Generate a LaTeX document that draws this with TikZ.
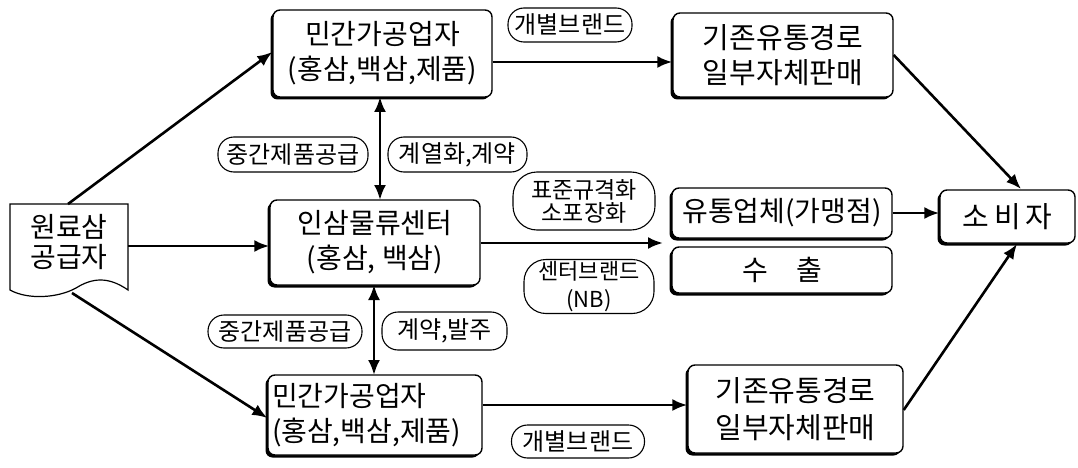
\documentclass[tikz,border=0pt]{standalone}
\usepackage{fontspec}
\setmainfont{Noto Sans CJK KR}
\usetikzlibrary{arrows.meta,shadows}
\tikzset{
  box/.style={draw=black, line width=1.4pt, fill=white, rounded corners=7pt,
    drop shadow={shadow xshift=-2.5pt, shadow yshift=-2.5pt, opacity=1, fill=black},
    inner sep=1pt, align=center, font=\fontsize{28}{35}\selectfont},
  tag/.style={draw=black, line width=1.1pt, rounded corners=16pt, fill=white,
    inner sep=0pt, align=center, font=\fontsize{24}{26}\selectfont},
  conn/.style={line width=2.6pt, -{Latex[length=15pt,width=12pt]}},
  bidir/.style={line width=2.6pt, {Latex[length=15pt,width=12pt]}-{Latex[length=15pt,width=12pt]}}
}
\begin{document}
\begin{tikzpicture}[x=1pt,y=-1pt]
\useasboundingbox (0,0) rectangle (1078,468);
% document shape
\draw[line width=1.2pt, fill=white] (10,204) -- (128,204) -- (128,290)
  .. controls (108,276) and (92,278) .. (76,288)
  .. controls (58,298) and (28,300) .. (10,290) -- cycle;
\node[font=\fontsize{28}{30}\selectfont, align=center, inner sep=0pt] (src) at (69,242) {원료삼\\공급자};
\coordinate (srcT) at (68,204);
\coordinate (srcR) at (128,246);
\coordinate (srcB) at (72,293);

% boxes
\node[box, minimum width=219pt, minimum height=87pt] (tl) at (382.5,53.5) {민간가공업자\\(홍삼,백삼,제품)};
\node[box, minimum width=220pt, minimum height=84pt, font=\fontsize{29}{35}\selectfont] (tr) at (783,55) {기존유통경로\\일부자체판매};
\node[box, minimum width=210pt, minimum height=85pt] (ctr) at (375,242.5) {인삼물류센터\\(홍삼,\ 백삼)};
\node[box, minimum width=214pt, minimum height=80pt, align=left, text width=206pt] (bl) at (375,415) {민간가공업자\\(홍삼,백삼,제품)};
\node[box, minimum width=215pt, minimum height=88pt, font=\fontsize{29}{37}\selectfont] (br) at (795.5,409) {기존유통경로\\일부자체판매};
\node[box, minimum width=220pt, minimum height=50pt] (dist) at (782,213) {유통업체(가맹점)};
\node[box, minimum width=220pt, minimum height=46pt] (exp) at (782,270) {수\hspace{1em}출};
\node[box, minimum width=135pt, minimum height=53pt, font=\fontsize{29}{30}\selectfont] (cons) at (1007.5,216.5) {소\,비\,자};

% tags
\node[tag, minimum width=124pt, minimum height=34pt] (t1) at (570,25) {개별브랜드};
\node[tag, minimum width=150pt, minimum height=35pt] (t2) at (293,154.5) {중간제품공급};
\node[tag, minimum width=139pt, minimum height=35pt] (t3) at (457.5,154.5) {계열화,계약};
\node[tag, minimum width=142pt, minimum height=58pt, rounded corners=24pt, font=\fontsize{23}{23}\selectfont] (t4) at (584,201) {표준규격화\\소포장화};
\node[tag, minimum width=130pt, minimum height=54pt, rounded corners=22pt, font=\fontsize{22}{28}\selectfont] (t5) at (589,286.5) {센터브랜드\\(NB)};
\node[tag, minimum width=154pt, minimum height=33pt] (t6) at (285,331.5) {중간제품공급};
\node[tag, minimum width=125pt, minimum height=38pt] (t7) at (444.5,331) {계약,발주};
\node[tag, minimum width=133pt, minimum height=33pt] (t8) at (578,441.5) {개별브랜드};

% connectors
\draw[conn] (srcT) -- (tl.west |- 0,52);
\draw[conn] (srcR) -- (ctr.west |- srcR);
\draw[conn] (srcB) -- (bl.west |- 0,418);
\draw[conn] (tl.east |- 0,62) -- (tr.west |- 0,62);
\draw[conn] (ctr.east |- 0,243) -- (663,243);
\draw[conn] (bl.east |- 0,405) -- (br.west |- 0,405);
\draw[conn] (dist.east) -- (cons.west |- dist.east);
\draw[conn] (tr.east |- 0,55) -- (1021,189);
\draw[conn] (br.east |- 0,410) -- (1017,244);
\draw[bidir] (380,97) -- (380,200);
\draw[bidir] (374,285) -- (374,375);
\end{tikzpicture}
\end{document}
